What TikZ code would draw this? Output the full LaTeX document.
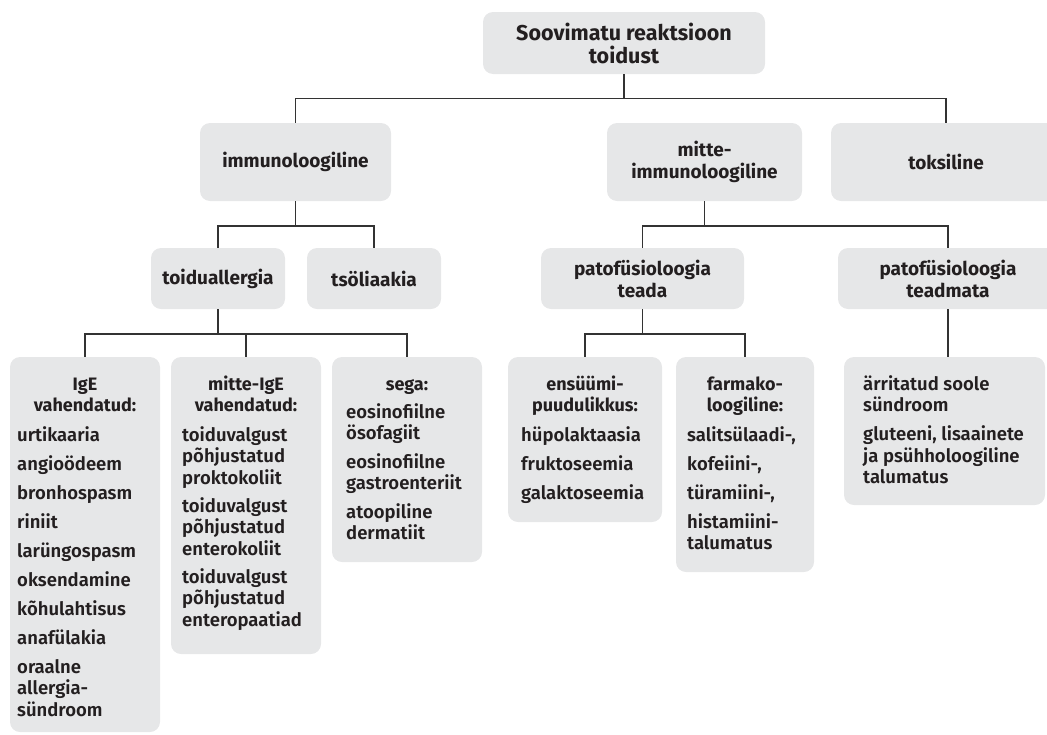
\documentclass[tikz,border=0pt]{standalone}
\usepackage{fontspec}
\setmainfont{Fira Sans}[UprightFont={* SemiBold},BoldFont={* Bold}]
\definecolor{boxgray}{HTML}{E6E7E8}
\definecolor{ink}{HTML}{231F20}
\definecolor{linec}{HTML}{333333}
\begin{document}
\begin{tikzpicture}[x=1pt,y=-1pt,
  box/.style={fill=boxgray, rounded corners=10pt, inner sep=0pt, draw=none},
  head/.style={font=\fontsize{19}{22}\selectfont\bfseries, text=ink, align=center, inner sep=0pt},
  hdr/.style={font=\fontsize{18}{21.5}\selectfont\bfseries, text=ink, inner sep=0pt, anchor=base},
  lst/.style={font=\fontsize{18.5}{21.5}\selectfont, text=ink, inner sep=0pt, anchor=base west},
  conn/.style={draw=linec, line width=1.3pt}
]
\useasboundingbox (0,0) rectangle (1047,734);
\begin{scope}
\clip (0,0) rectangle (1047,734);
% level 0
\node[box, minimum width=282pt, minimum height=62pt] (root) at (624,43) {};
\node[head, font=\fontsize{21.5}{23}\selectfont\bfseries] (rootT) at (root) {Soovimatu reaktsioon\\toidust};
% level 1
\node[box, minimum width=191pt, minimum height=78pt] (immuno) at (295.5,162) {};
\node[head] (immunoT) at (immuno) {immunoloogiline};
\node[box, minimum width=195pt, minimum height=78pt] (mitte) at (704.5,162) {};
\node[head] (mitteT) at (mitte) {mitte-\\immunoloogiline};
\node[box, minimum width=230pt, minimum height=78pt] (tox) at (946,162) {};
\node[head] (toxT) at (tox) {toksiline};
% level 2
\node[box, minimum width=134pt, minimum height=61pt] (allergy) at (218,278.5) {};
\node[head] (allergyT) at (allergy) {toiduallergia};
\node[box, minimum width=134pt, minimum height=61pt] (celiac) at (374,278.5) {};
\node[head] (celiacT) at (celiac) {tsöliaakia};
\node[box, minimum width=203pt, minimum height=61pt] (teada) at (642.5,278.5) {};
\node[head] (teadaT) at (teada) {patofüsioloogia\\teada};
\node[box, minimum width=220pt, minimum height=61pt] (teadmata) at (948,278.5) {};
\node[head] (teadmataT) at (teadmata) {patofüsioloogia\\teadmata};
% level 3 boxes
\node[box, minimum width=150pt, minimum height=375pt] (ige) at (85,544.5) {};
\node[box, minimum width=150pt, minimum height=297pt] (nonige) at (246,505.5) {};
\node[box, minimum width=150pt, minimum height=205pt] (sega) at (407,459.5) {};
\node[box, minimum width=154pt, minimum height=165pt] (ens) at (585,439.5) {};
\node[box, minimum width=138pt, minimum height=215pt] (farm) at (745,464.5) {};
\node[box, minimum width=201pt, minimum height=148pt] (irr) at (944.5,431) {};
% level 3 texts
\node[hdr] (igeH) at (85,390) {\begin{tabular}[t]{@{}c@{}}IgE\\vahendatud:\end{tabular}};
\node[lst] (igeL) at (17,441) {\begin{tabular}[t]{@{}l@{}}urtikaaria\\[7.5pt]angioödeem\\[7.5pt]bronhospasm\\[7.5pt]riniit\\[7.5pt]larüngospasm\\[7.5pt]oksendamine\\[7.5pt]kõhulahtisus\\[7.5pt]anafülakia\\[7.5pt]oraalne\\allergia-\\sündroom\end{tabular}};
\node[hdr] (nonigeH) at (246,390) {\begin{tabular}[t]{@{}c@{}}mitte-IgE\\vahendatud:\end{tabular}};
\node[lst] (nonigeL) at (182,441) {\begin{tabular}[t]{@{}l@{}}toiduvalgust\\põhjustatud\\proktokoliit\\[6.5pt]toiduvalgust\\põhjustatud\\enterokoliit\\[6.5pt]toiduvalgust\\põhjustatud\\enteropaatiad\end{tabular}};
\node[hdr] (segaH) at (407,390) {\begin{tabular}[t]{@{}c@{}}sega:\end{tabular}};
\node[lst] (segaL) at (346,418) {\begin{tabular}[t]{@{}l@{}}eosinofiilne\\ösofagiit\\[7pt]eosinofiilne\\gastroenteriit\\[7pt]atoopiline\\dermatiit\end{tabular}};
\node[hdr] (ensH) at (585,390) {\begin{tabular}[t]{@{}c@{}}ensüümi-\\puudulikkus:\end{tabular}};
\node[lst] (ensL) at (521,441) {\begin{tabular}[t]{@{}l@{}}hüpolaktaasia\\[7.5pt]fruktoseemia\\[7.5pt]galaktoseemia\end{tabular}};
\node[hdr] (farmH) at (745,390) {\begin{tabular}[t]{@{}c@{}}farmako-\\loogiline:\end{tabular}};
\node[lst] (farmL) at (687,441) {\begin{tabular}[t]{@{}l@{}}salitsülaadi-,\\[7.5pt]kofeiini-,\\[7.5pt]türamiini-,\\[7.5pt]histamiini-\\talumatus\end{tabular}};
\node[lst] (irrL) at (863,390) {\begin{tabular}[t]{@{}l@{}}ärritatud soole\\sündroom\\[7.5pt]gluteeni, lisaainete\\ja psühholoogiline\\talumatus\end{tabular}};
% connectors
\coordinate (j0) at (624,98.5);
\coordinate (j1) at (296,226);
\coordinate (j2) at (704,226);
\coordinate (j3) at (218,334);
\coordinate (j4) at (642,334);
\draw[conn] (root.south) -- (root.south |- j0);
\draw[conn] (immuno.north) -- (immuno.north |- j0) -- (tox.north |- j0) -- (tox.north);
\draw[conn] (immuno.south) -- (immuno.south |- j1);
\draw[conn] (allergy.north) -- (allergy.north |- j1) -- (celiac.north |- j1) -- (celiac.north);
\draw[conn] (mitte.south) -- (mitte.south |- j2);
\draw[conn] (teada.north) -- (teada.north |- j2) -- (teadmata.north |- j2) -- (teadmata.north);
\draw[conn] (allergy.south) -- (allergy.south |- j3);
\draw[conn] (ige.north) -- (ige.north |- j3) -- (sega.north |- j3) -- (sega.north);
\draw[conn] (nonige.north) -- (nonige.north |- j3);
\draw[conn] (teada.south) -- (teada.south |- j4);
\draw[conn] (ens.north) -- (ens.north |- j4) -- (farm.north |- j4) -- (farm.north);
\draw[conn] (teadmata.south) -- (teadmata.south |- irr.north);
\end{scope}
\end{tikzpicture}
\end{document}
